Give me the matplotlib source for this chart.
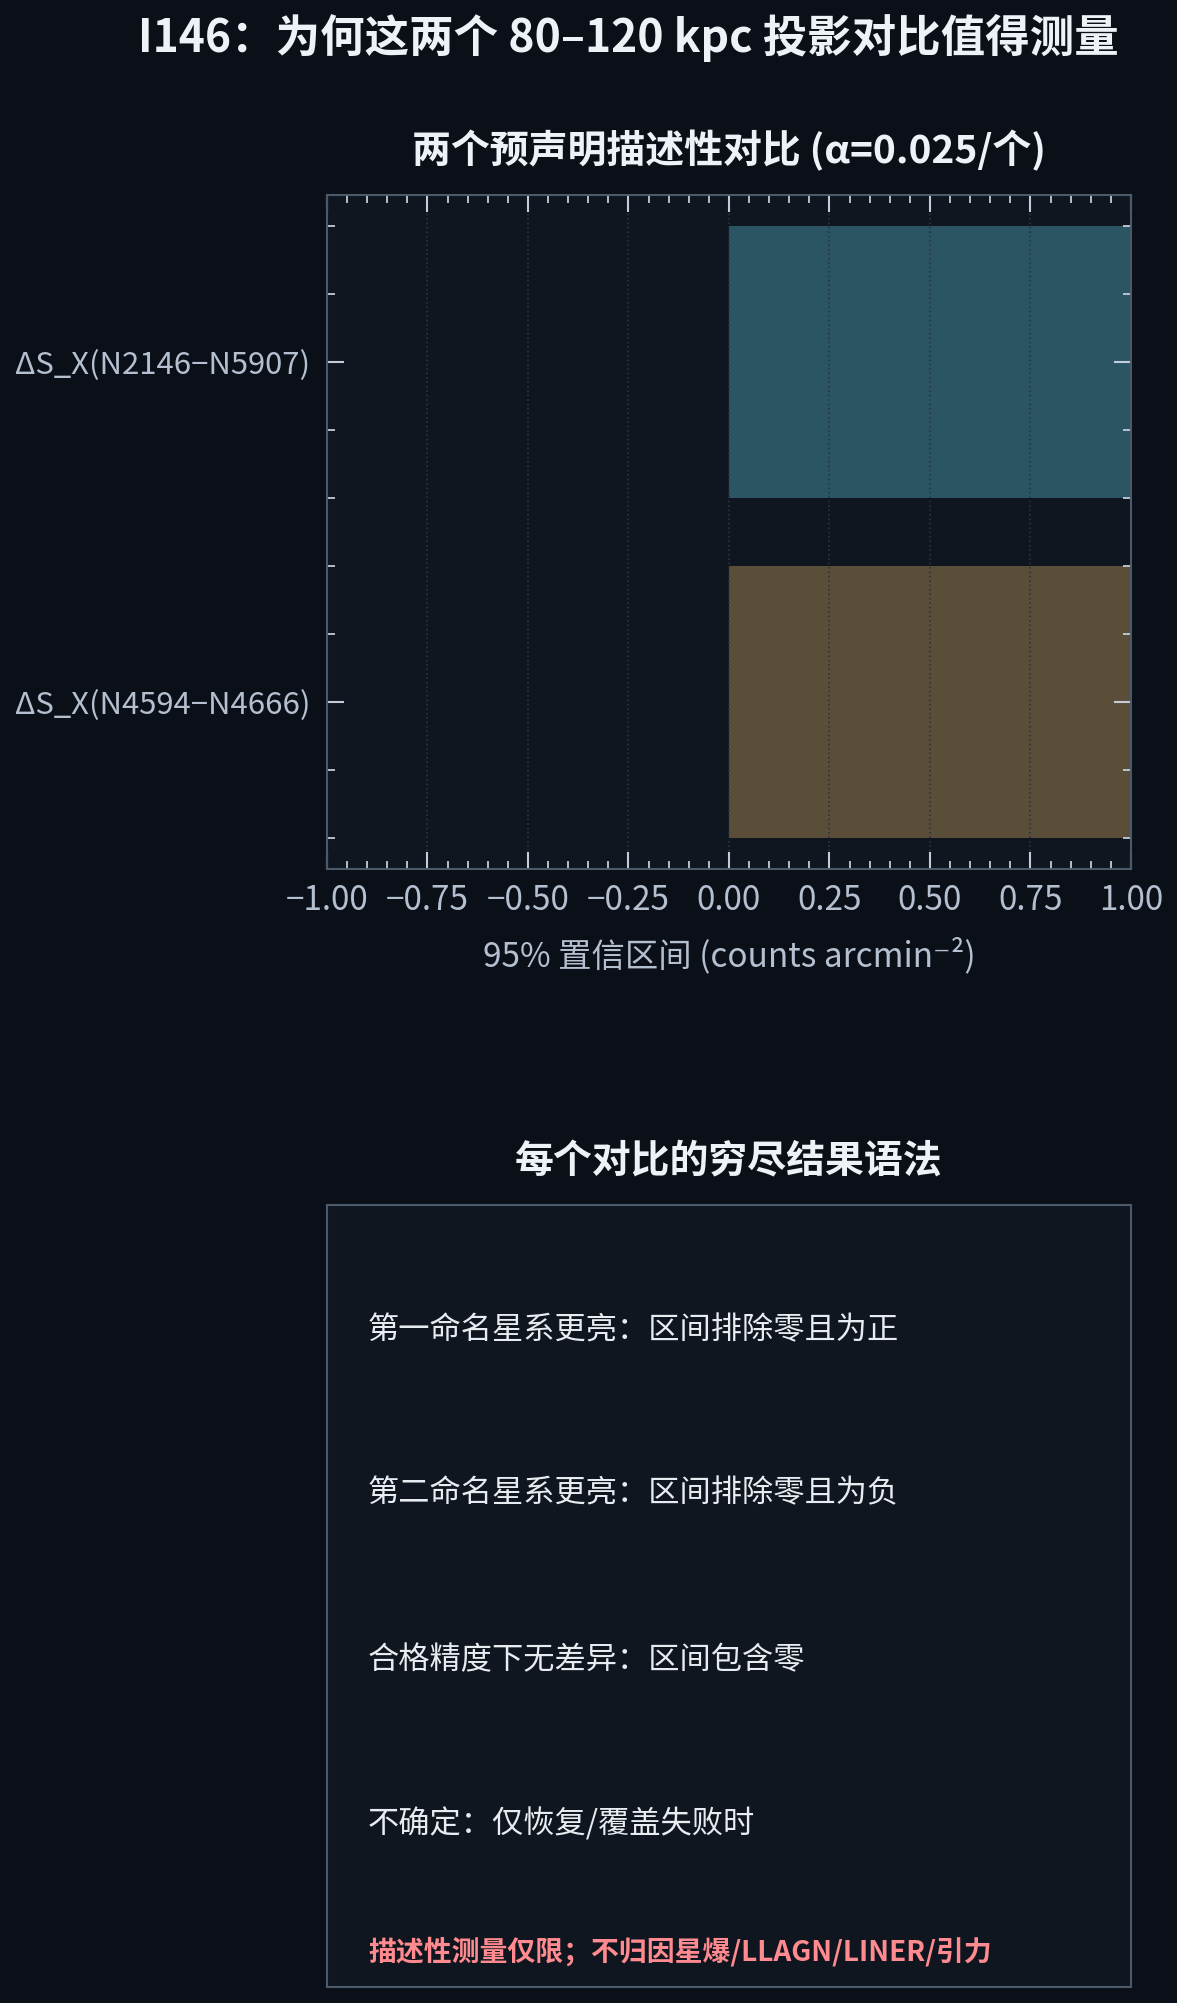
import matplotlib
matplotlib.use("Agg")
import matplotlib.pyplot as plt
from matplotlib.ticker import MultipleLocator, FuncFormatter

plt.rcParams['font.family'] = ['Noto Sans CJK SC', 'DejaVu Sans']
plt.rcParams['axes.unicode_minus'] = True

# data
contrasts = ['ΔS_X(N2146−N5907)', 'ΔS_X(N4594−N4666)']
ci_low = [0.0, 0.0]
ci_high = [1.0, 1.0]
bar_colors = ['#2b5562', '#5b4e39']

outcome_rules = [
    '第一命名星系更亮：区间排除零且为正',
    '第二命名星系更亮：区间排除零且为负',
    '合格精度下无差异：区间包含零',
    '不确定：仅恢复/覆盖失败时',
]
caveat = '描述性测量仅限；不归因星爆/LLAGN/LINER/引力'

fig_bg = '#0a0f18'
ax_bg = '#10161f'
spine_c = '#4b5a6b'
tick_c = '#c3ccd9'
label_c = '#b4c0d0'
title_c = '#eef1f6'

fig = plt.figure(figsize=(11.77, 20.03), dpi=100, facecolor=fig_bg)

# top panel: intervals
ax = fig.add_axes([0.2778, 0.5661, 0.6831, 0.3365], facecolor=ax_bg)
ypos = list(range(len(contrasts)))
widths = [h - l for l, h in zip(ci_low, ci_high)]
ax.barh(ypos, widths, left=ci_low, height=0.8, color=bar_colors)
ax.set_yticks(ypos)
ax.set_yticklabels(contrasts)
ax.invert_yaxis()
ax.set_xlim(-1.0, 1.0)
ax.xaxis.set_major_locator(MultipleLocator(0.25))
ax.xaxis.set_minor_locator(MultipleLocator(0.05))
ax.yaxis.set_minor_locator(MultipleLocator(0.2))
ax.xaxis.set_major_formatter(FuncFormatter(lambda v, p: f'{v:.2f}'.replace('-', '\u2212')))
ax.grid(axis='x', which='major', linestyle=':', color='#2a3442', linewidth=1.2)
ax.tick_params(which='both', direction='in', top=True, right=True, colors=tick_c,
               labelcolor=label_c)
ax.tick_params(which='major', length=12, width=1.5, pad=10)
ax.tick_params(which='minor', length=6, width=1.3)
ax.tick_params(axis='x', labelsize=24)
ax.tick_params(axis='y', which='major', pad=12, labelsize=22.4)
for s in ax.spines.values():
    s.set_color(spine_c)
    s.set_linewidth(1.5)
ax.set_xlabel('95% 置信区间 (counts arcmin⁻²)', fontsize=24, color=label_c, labelpad=14)
ax.set_title('两个预声明描述性对比 (α=0.025/个)', fontsize=28, fontweight='bold',
             color=title_c, pad=23)

# bottom panel: outcome grammar
ax2 = fig.add_axes([0.2778, 0.0080, 0.6831, 0.3904], facecolor=ax_bg)
ax2.set_xticks([])
ax2.set_yticks([])
for s in ax2.spines.values():
    s.set_color(spine_c)
    s.set_linewidth(1.5)
ax2.set_xlim(0, 1)
ax2.set_ylim(0, 1)
rule_y = [0.840, 0.631, 0.418, 0.209]
for yy, txt in zip(rule_y, outcome_rules):
    ax2.text(0.051, yy, txt, fontsize=22.5, color='#e8ebf0', va='center', ha='left')
ax2.text(0.051, 0.045, caveat, fontsize=20.1, color='#ff8a8f', fontweight='bold',
         va='center', ha='left')
ax2.set_title('每个对比的穷尽结果语法', fontsize=28, fontweight='bold', color=title_c, pad=23)

fig.suptitle('I146：为何这两个 80–120 kpc 投影对比值得测量', x=0.5336, y=0.981,
             va='center', fontsize=32, fontweight='bold', color=title_c)

fig.savefig('out.png', dpi=100, facecolor=fig_bg)
